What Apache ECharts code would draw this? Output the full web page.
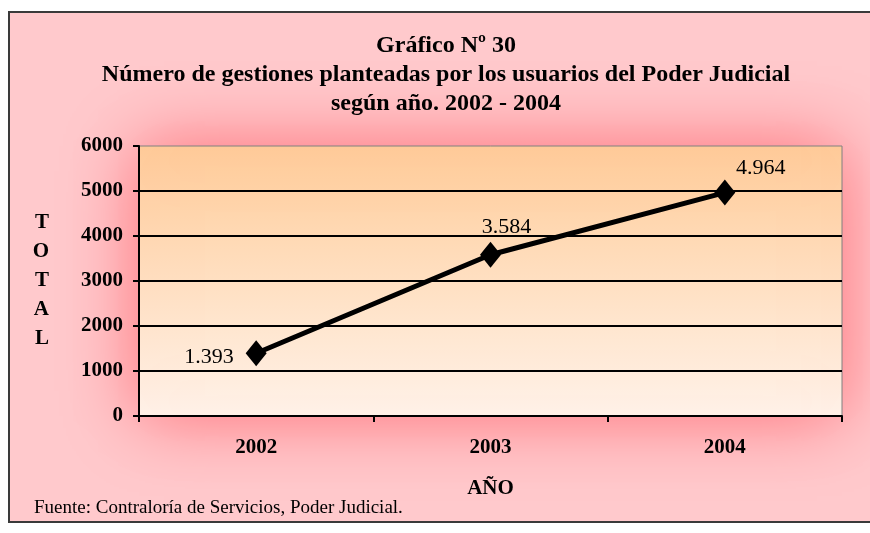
<!DOCTYPE html>
<html>
<head>
<meta charset="utf-8">
<script src="https://cdn.jsdelivr.net/npm/echarts@6/dist/echarts.min.js"></script>
<style>
  html, body { margin: 0; padding: 0; background: #fff; }
  #main { width: 870px; height: 533px; }
</style>
</head>
<body>
<div id="main"></div>
<script>
const years = ['2002', '2003', '2004']
const totals = [1393, 3584, 4964]
const pointLabels = ['1.393', '3.584', '4.964']
const titleLines = [
  'Gráfico Nº 30',
  'Número de gestiones planteadas por los usuarios del Poder Judicial',
  'según año. 2002 - 2004'
]

const serif = '"Liberation Serif", "Times New Roman", serif'

// posicion de cada etiqueta de dato
const labelPos = [
  {position: 'left', distance: 12, offset: [0, 4]},
  {position: 'top', distance: 4, offset: [16, 0]},
  {position: 'top', distance: 4, offset: [36, 4]}
]

let myChart = echarts.init(document.getElementById('main'))

let option = {
  backgroundColor: '#fff',
  animation: false,
  title: {
    text: titleLines.join('\n'),
    left: 441,
    top: 26,
    textAlign: 'center',
    textStyle: {
      fontFamily: serif,
      fontWeight: 'bold',
      fontSize: 24,
      lineHeight: 29,
      color: '#000'
    }
  },
  graphic: [
    {
      // marco rosado exterior
      type: 'rect',
      z: -10,
      silent: true,
      shape: {x: 9, y: 12, width: 880, height: 510},
      style: {fill: '#ffc9cc', stroke: '#3a3a3a', lineWidth: 2}
    },
    {
      type: 'text',
      left: 34,
      top: 499,
      style: {
        text: 'Fuente: Contraloría de Servicios, Poder Judicial.',
        font: '19px ' + serif,
        fill: '#000'
      }
    }
  ],
  grid: {
    left: 139,
    right: 28,
    top: 146,
    bottom: 117,
    show: true,
    borderColor: '#808080',
    borderWidth: 1,
    backgroundColor: new echarts.graphic.LinearGradient(0, 0, 0, 1, [
      {offset: 0, color: '#ffcc99'},
      {offset: 1, color: '#fff3ea'}
    ]),
    shadowColor: 'rgba(255, 100, 110, 0.9)',
    shadowBlur: 70
  },
  xAxis: {
    type: 'category',
    data: years,
    boundaryGap: true,
    name: 'AÑO',
    nameLocation: 'middle',
    nameGap: 62,
    nameTextStyle: {fontFamily: serif, fontWeight: 'bold', fontSize: 21, color: '#000'},
    axisLine: {lineStyle: {color: '#000', width: 2}},
    axisTick: {show: true, length: 6, lineStyle: {color: '#000', width: 2}},
    axisLabel: {
      margin: 21,
      fontFamily: serif,
      fontWeight: 'bold',
      fontSize: 21,
      color: '#000'
    }
  },
  yAxis: {
    type: 'value',
    min: 0,
    max: 6000,
    interval: 1000,
    name: 'T\nO\nT\nA\nL',
    nameLocation: 'middle',
    nameRotate: 0,
    nameGap: 90,
    nameTextStyle: {fontFamily: serif, fontWeight: 'bold', fontSize: 21, lineHeight: 29, color: '#000'},
    axisLine: {show: true, lineStyle: {color: '#000', width: 2}},
    axisTick: {show: true, length: 6, lineStyle: {color: '#000', width: 2}},
    axisLabel: {
      margin: 16,
      fontFamily: serif,
      fontWeight: 'bold',
      fontSize: 21,
      color: '#000',
      formatter: function(v) {
        return String(v)
      }
    },
    splitLine: {
      show: true,
      showMaxLine: false,
      lineStyle: {color: '#000', width: 2}
    }
  },
  series: [
    {
      type: 'line',
      data: totals.map((v, i) => ({value: v, label: labelPos[i]})),
      symbol: 'diamond',
      symbolSize: [21, 26],
      lineStyle: {color: '#000', width: 5},
      itemStyle: {color: '#000'},
      label: {
        show: true,
        fontFamily: serif,
        fontSize: 22,
        color: '#000',
        formatter: function(p) {
          return pointLabels[p.dataIndex]
        }
      }
    }
  ]
}

myChart.setOption(option)
</script>
</body>
</html>
